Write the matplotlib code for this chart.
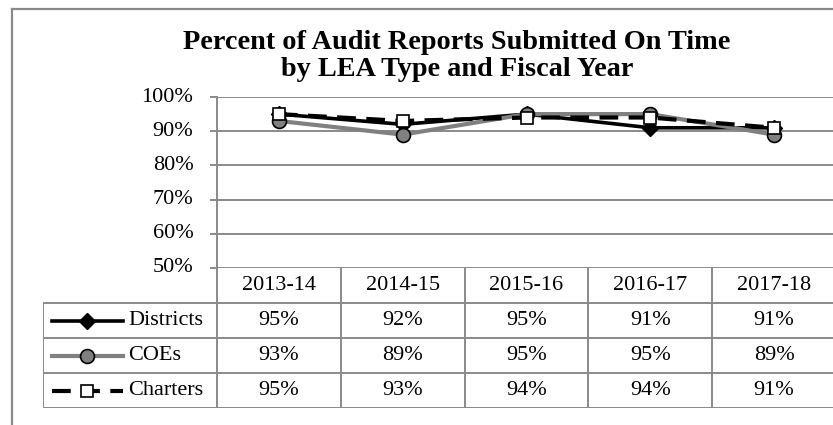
import matplotlib
matplotlib.use("Agg")
import matplotlib.pyplot as plt
from matplotlib.lines import Line2D

plt.rcParams['font.family'] = ['Liberation Serif', 'DejaVu Serif']

# data
years = ['2013-14', '2014-15', '2015-16', '2016-17', '2017-18']
districts = [95, 92, 95, 91, 91]
coes = [93, 89, 95, 95, 89]
charters = [95, 93, 94, 94, 91]
series_names = ['Districts', 'COEs', 'Charters']
title = 'Percent of Audit Reports Submitted On Time\nby LEA Type and Fiscal Year'
yticks = [50, 60, 70, 80, 90, 100]

W, H = 833, 425
grid_c = '#8a8a8a'
fs = 16

fig = plt.figure(figsize=(W / 100, H / 100), dpi=100)

def px(x0, y0, x1, y1):
    # pixel box (top-left origin) -> figure fraction rect
    return [x0 / W, 1 - y1 / H, (x1 - x0) / W, (y1 - y0) / H]

# outer frame of the chart object
fig.add_artist(Line2D([12 / W, 1], [1 - 9 / H, 1 - 9 / H], color=grid_c, lw=1.6))
fig.add_artist(Line2D([12 / W, 12 / W], [0, 1 - 9 / H], color=grid_c, lw=1.6))

fig.text(457 / W, 1 - 56 / H, title, ha='center', va='center', fontsize=20.3,
         fontweight='bold', linespacing=1.15)

# plot area
x_left, x_right = 217, 836
ax = fig.add_axes(px(x_left, 97, x_right, 268))
x = list(range(len(years)))
ax.plot(x, districts, color='black', lw=2.6, marker='D', ms=8, mfc='black', mec='black', zorder=3)
ax.plot(x, coes, color='#808080', lw=3.0, marker='o', ms=10, mfc='#808080', mec='black', mew=1.2, zorder=4)
ax.plot(x, charters, color='black', lw=3.0, dashes=(4.5, 2.5), marker='s', ms=9, mfc='white', mec='black', mew=1.2, zorder=5)
ax.set_xlim(-0.5, len(years) - 0.5)
ax.set_ylim(50, 100)
ax.set_yticks(yticks)
ax.set_yticklabels(['%d%%' % v for v in yticks], fontsize=fs)
ax.set_xticks([])
ax.grid(axis='y', color=grid_c, lw=1.4)
ax.set_axisbelow(True)
for s in ['top', 'right', 'bottom']:
    ax.spines[s].set_visible(False)
ax.spines['left'].set_color(grid_c)
ax.spines['left'].set_linewidth(1.4)
ax.tick_params(axis='y', length=5, width=1.4, color=grid_c, pad=12)
for lbl in ax.get_yticklabels():
    lbl.set_va('center')

# data table below the plot, using the same category units
col_w = (x_right - x_left) / len(years)
leg_w = (x_left - 43) / col_w
tax = fig.add_axes(px(43, 268, x_right, 408))
tax.set_xlim(-0.5 - leg_w, len(years) - 0.5)
tax.set_ylim(4, 0)
tax.axis('off')
lc = dict(color=grid_c, lw=1.4, solid_capstyle='butt')
for r in [1, 2, 3, 4]:
    tax.plot([-0.5 - leg_w, len(years) - 0.5], [r, r], **lc)
tax.plot([-0.5 - leg_w, -0.5 - leg_w], [1, 4], **lc)
for c in range(len(years)):
    tax.plot([c - 0.5, c - 0.5], [0, 4], **lc)
for c, yr in enumerate(years):
    tax.text(c, 0.5, yr, ha='center', va='center', fontsize=fs)
rows = [districts, coes, charters]
for r, vals in enumerate(rows):
    for c, v in enumerate(vals):
        tax.text(c, r + 1.5, '%d%%' % v, ha='center', va='center', fontsize=fs)

# legend keys inside the first column
def cx(p):
    return (p - x_left) / col_w - 0.5

styles = [
    dict(color='black', lw=2.6, marker='D', ms=8, mfc='black', mec='black'),
    dict(color='#808080', lw=3.0, marker='o', ms=10, mfc='#808080', mec='black', mew=1.2),
    dict(color='black', lw=3.0, dashes=(4.5, 2.5), marker='s', ms=9, mfc='white', mec='black', mew=1.2),
]
for r, (name, st) in enumerate(zip(series_names, styles)):
    yy = r + 1.5
    st = dict(st)
    mk = {k: st.pop(k) for k in ['marker', 'ms', 'mfc', 'mec', 'mew'] if k in st}
    tax.plot([cx(52), cx(123)], [yy, yy], **st)
    tax.plot([cx(87)], [yy], ls='none', **mk)
    tax.text(cx(128), yy, name, ha='left', va='center', fontsize=fs)

fig.savefig('out.png', dpi=100)
